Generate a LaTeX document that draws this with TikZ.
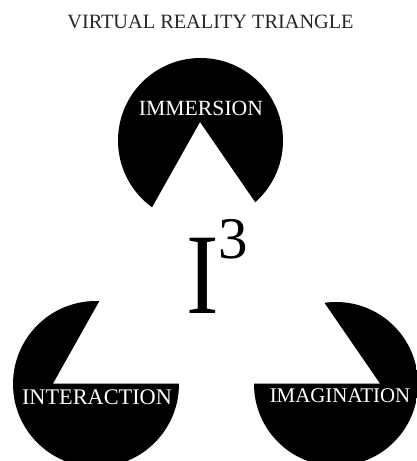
\documentclass[tikz,border=0pt]{standalone}
\usepackage{fontspec}
\setmainfont{Liberation Serif}
\begin{document}
\begin{tikzpicture}[x=1pt,y=-1pt]
\tikzset{
  pac/.style={fill=black,even odd rule},
  lab/.style={text=white,inner sep=0pt,anchor=base},
  ttl/.style={text=black!85,inner sep=0pt,anchor=base,font=\fontsize{20.3}{22}\selectfont}
}
\useasboundingbox (0,0) rectangle (416,461);
\coordinate (A) at (200,122);
\coordinate (B) at (53,383.5);
\coordinate (C) at (380,383.5);
\foreach \cx/\cy/\r in {200.5/140.5/82.5, 96/384/83, 336/384/82} {
  \begin{scope}
    \clip (\cx,\cy) circle[radius=\r pt];
    \fill[pac] (-10,-10) rectangle (430,480) (A) -- (B) -- (C) -- cycle;
  \end{scope}
}
\node[ttl] (title) at (210.5,28) {VIRTUAL REALITY TRIANGLE};
\node[lab,font=\fontsize{21.7}{24}\selectfont] (immersion) at (201,115) {IMMERSION};
\node[lab,font=\fontsize{22.3}{24}\selectfont] (interaction) at (97,404) {INTERACTION};
\node[lab,font=\fontsize{20.9}{24}\selectfont] (imagination) at (340,402) {IMAGINATION};
\node[anchor=base west,inner sep=0pt] (i3) at (186,313)
  {\scalebox{0.85}[1]{\fontsize{115}{115}\selectfont I}\raisebox{55pt}{\fontsize{59}{59}\selectfont 3}};
\end{tikzpicture}
\end{document}
